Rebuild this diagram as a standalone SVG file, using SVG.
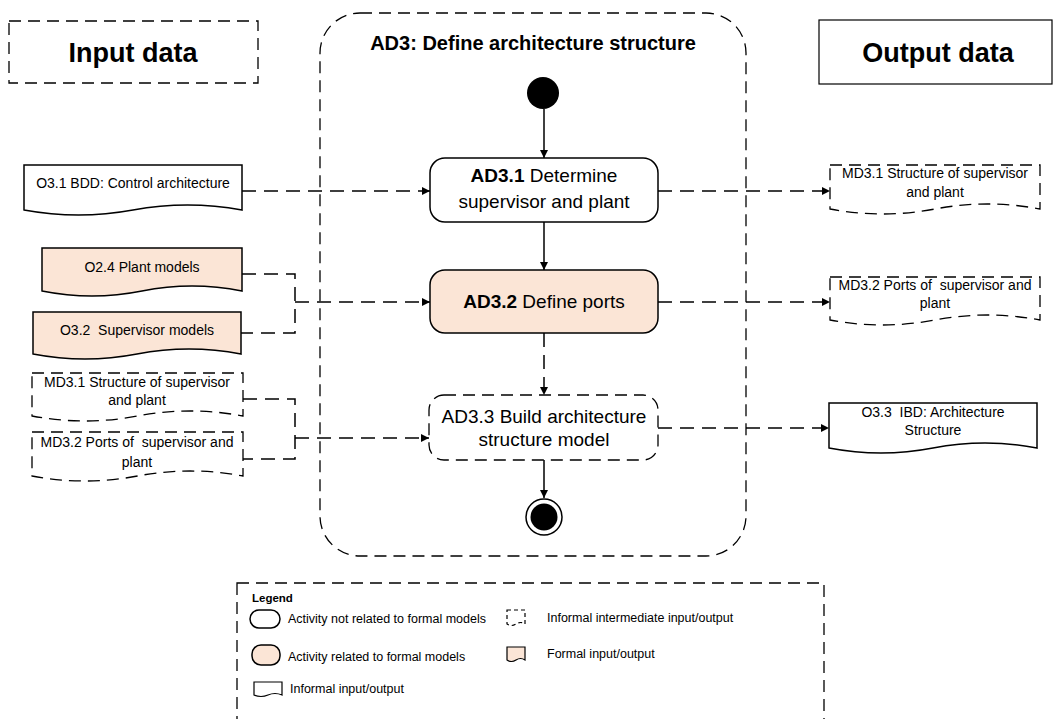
<svg xmlns="http://www.w3.org/2000/svg" width="1056" height="719" viewBox="0 0 1056 719">
<style>
text{font-family:"Liberation Sans",Arial,sans-serif;fill:#000}
.hd{font-size:27px;font-weight:bold;text-anchor:middle}
.tt{font-size:20px;font-weight:bold;text-anchor:middle}
.act{font-size:19px;text-anchor:middle}
.doc{font-size:14px;text-anchor:middle}
.lg{font-size:12.5px}
.b{font-weight:bold}
.solid{fill:none;stroke:#000;stroke-width:1.5}
.dash{fill:none;stroke:#000;stroke-width:1.5;stroke-dasharray:14 8}
.boxd{stroke:#000;stroke-width:1.3;stroke-dasharray:12 7}
.box{stroke:#000;stroke-width:1.5}
.peach{fill:#FBE5D6}
.white{fill:#fff}
</style>
<defs>
<marker id="arr" viewBox="0 0 10 10" refX="10" refY="5" markerWidth="8" markerHeight="8" markerUnits="userSpaceOnUse" orient="auto">
<path d="M0,0 L10,5 L0,10 Z" fill="#000"/>
</marker>
</defs>

<g id="input-header">
<rect x="9" y="21" width="249" height="62" fill="#fff" class="boxd"/>
<text x="133" y="62" class="hd">Input data</text>
</g>
<g id="output-header">
<rect x="819" y="20" width="233" height="64" fill="#fff" stroke="#000" stroke-width="1.2"/>
<text x="938" y="62" class="hd">Output data</text>
</g>

<g id="container">
<rect x="320" y="13" width="426" height="543" rx="40" fill="none" class="boxd"/>
<text x="533" y="50" class="tt">AD3: Define architecture structure</text>
</g>

<g id="connectors">
<path d="M544,109 V158" class="solid" marker-end="url(#arr)"/>
<path d="M544,222 V270" class="solid" marker-end="url(#arr)"/>
<path d="M544,333 V395" class="dash" marker-end="url(#arr)"/>
<path d="M544,460 V498" class="solid" marker-end="url(#arr)"/>
<path d="M242,191 H430" class="dash" marker-end="url(#arr)"/>
<path d="M242,274 H295 V333 H241" class="dash"/>
<path d="M295,302 H430" class="dash" marker-end="url(#arr)"/>
<path d="M243,399 H295 V459 H243" class="dash"/>
<path d="M295,438 H429" class="dash" marker-end="url(#arr)"/>
<path d="M658,191 H830" class="dash" marker-end="url(#arr)"/>
<path d="M658,302 H830" class="dash" marker-end="url(#arr)"/>
<path d="M658,428 H829" class="dash" marker-end="url(#arr)"/>
</g>

<g id="start">
<circle cx="543" cy="93" r="16" fill="#000"/>
</g>

<g id="ad3-1">
<rect x="430" y="158" width="228" height="64" rx="15" class="white box"/>
<text x="544" y="182" class="act"><tspan class="b">AD3.1</tspan> Determine</text>
<text x="544" y="208" class="act">supervisor and plant</text>
</g>

<g id="ad3-2">
<rect x="430" y="270" width="228" height="63" rx="15" class="peach box"/>
<text x="544" y="308" class="act"><tspan class="b">AD3.2</tspan> Define ports</text>
</g>

<g id="ad3-3">
<rect x="429" y="395" width="229" height="65" rx="15" class="white boxd"/>
<text x="544" y="423" class="act">AD3.3 Build architecture</text>
<text x="544" y="446" class="act">structure model</text>
</g>

<g id="end">
<circle cx="544" cy="517" r="18" fill="#fff" stroke="#000" stroke-width="1.5"/>
<circle cx="544" cy="517" r="13.5" fill="#000"/>
</g>

<g id="in-o31">
<path d="M24,165 H242 V210 Q187.5,200 133,210 T24,210 Z" class="white box"/>
<text x="133" y="188" class="doc">O3.1 BDD: Control architecture</text>
</g>
<g id="in-o24">
<path d="M42,248 H242 V291 Q192,281 142,291 T42,291 Z" class="peach box"/>
<text x="142" y="272" class="doc">O2.4 Plant models</text>
</g>
<g id="in-o32">
<path d="M33,312 H241 V354 Q189,344 137,354 T33,354 Z" class="peach box"/>
<text x="137" y="335" class="doc" xml:space="preserve">O3.2  Supervisor models</text>
</g>
<g id="in-md31">
<path d="M32,373 H243 V416 Q190,406 137.5,416 T32,416 Z" class="white boxd"/>
<text x="137" y="387" class="doc">MD3.1 Structure of supervisor</text>
<text x="137" y="405" class="doc">and plant</text>
</g>
<g id="in-md32">
<path d="M32,432 H243 V476 Q190,466 137.5,476 T32,476 Z" class="white boxd"/>
<text x="137" y="447" class="doc" xml:space="preserve">MD3.2 Ports of  supervisor and</text>
<text x="137" y="467" class="doc">plant</text>
</g>

<g id="out-md31">
<path d="M830,165 H1040 V209 Q987.5,199 935,209 T830,209 Z" class="white boxd"/>
<text x="935" y="178" class="doc">MD3.1 Structure of supervisor</text>
<text x="935" y="197" class="doc">and plant</text>
</g>
<g id="out-md32">
<path d="M830,277 H1040 V320 Q987.5,310 935,320 T830,320 Z" class="white boxd"/>
<text x="935" y="290" class="doc" xml:space="preserve">MD3.2 Ports of  supervisor and</text>
<text x="935" y="308" class="doc">plant</text>
</g>
<g id="out-o33">
<path d="M829,403 H1037 V448 Q985,438 933,448 T829,448 Z" class="white box"/>
<text x="933" y="417" class="doc" xml:space="preserve">O3.3  IBD: Architecture</text>
<text x="933" y="435" class="doc">Structure</text>
</g>

<g id="legend">
<rect x="237" y="583" width="587" height="160" fill="none" class="boxd"/>
<text x="252" y="602" class="b" font-size="11.5">Legend</text>
<rect x="250" y="610" width="30" height="18" rx="9" class="white" stroke="#000" stroke-width="1.5"/>
<text x="288" y="623" class="lg">Activity not related to formal models</text>
<path d="M507,610 H525 V624 Q520.5,621 516,624 T507,624 Z" fill="#fff" stroke="#000" stroke-width="1.2" stroke-dasharray="4 3"/>
<text x="547" y="622" class="lg">Informal intermediate input/output</text>
<rect x="252" y="645" width="28" height="20" rx="9" class="peach" stroke="#000" stroke-width="1.5"/>
<text x="288" y="661" class="lg">Activity related to formal models</text>
<path d="M507,647 H525 V660 Q520.5,657 516,660 T507,660 Z" class="peach" stroke="#000" stroke-width="1.2"/>
<text x="547" y="658" class="lg">Formal input/output</text>
<path d="M254,682 H282 V695 Q275,692 268,695 T254,695 Z" class="white" stroke="#000" stroke-width="1.2"/>
<text x="290" y="693" class="lg">Informal input/output</text>
</g>
</svg>
